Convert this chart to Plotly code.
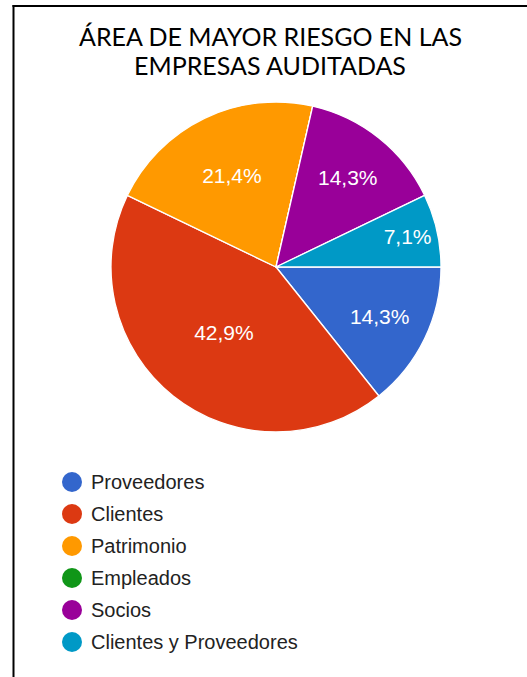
import plotly.graph_objects as go

W, H = 527, 677

# Data
categories = ["Proveedores", "Clientes", "Patrimonio", "Empleados", "Socios", "Clientes y Proveedores"]
counts = [2, 6, 3, 0, 2, 1]
colors = ["#3366CC", "#DC3912", "#FF9900", "#109618", "#990099", "#0099C6"]
title_lines = ["ÁREA DE MAYOR RIESGO EN LAS", "EMPRESAS AUDITADAS"]

total = sum(counts)
labels_txt = [(f"{v / total * 100:.1f}%".replace(".", ",") if v > 0 else "") for v in counts]

# pie geometry in pixels
cx, cy, r = 276, 267, 165

fig = go.Figure()
fig.add_trace(go.Pie(
    labels=categories,
    values=counts,
    text=labels_txt,
    textinfo="text",
    textposition="inside",
    insidetextorientation="horizontal",
    textfont=dict(family="Liberation Sans, Arial", size=21, color="white"),
    marker=dict(colors=colors, line=dict(color="white", width=1.3)),
    sort=False,
    direction="clockwise",
    rotation=90,
    showlegend=False,
    hoverinfo="label+percent",
    domain=dict(x=[(cx - r) / W, (cx + r) / W], y=[1 - (cy + r) / H, 1 - (cy - r) / H]),
))

annotations = []
shapes = []

# title
for i, line in enumerate(title_lines):
    annotations.append(dict(
        text=line, x=270 / W, y=1 - (36 + 28.5 * i) / H, xref="paper", yref="paper",
        xanchor="center", yanchor="middle", showarrow=False,
        font=dict(family="Lato, Open Sans", size=25, color="#000000"),
    ))

# legend drawn as circle markers plus labels
leg_x, leg_y0, leg_dy, rad = 72, 482, 32, 10
for i, (name, col) in enumerate(zip(categories, colors)):
    yc = leg_y0 + leg_dy * i
    shapes.append(dict(
        type="circle", xref="paper", yref="paper",
        x0=(leg_x - rad) / W, x1=(leg_x + rad) / W,
        y0=1 - (yc + rad) / H, y1=1 - (yc - rad) / H,
        fillcolor=col, line=dict(width=0),
    ))
    annotations.append(dict(
        text=name, x=89 / W, y=1 - yc / H, xref="paper", yref="paper",
        xanchor="left", yanchor="middle", showarrow=False,
        font=dict(family="Liberation Sans, Arial", size=20, color="#222222"),
    ))

# outer frame: left and top edges
frame_top = 6
shapes.append(dict(type="line", xref="paper", yref="paper",
                   x0=13.5 / W, x1=13.5 / W, y0=0, y1=1 - (frame_top - 1) / H,
                   line=dict(color="black", width=2)))
shapes.append(dict(type="line", xref="paper", yref="paper",
                   x0=12.5 / W, x1=1, y0=1 - frame_top / H, y1=1 - frame_top / H,
                   line=dict(color="black", width=2)))

fig.update_layout(
    width=W, height=H,
    margin=dict(l=0, r=0, t=0, b=0),
    paper_bgcolor="white", plot_bgcolor="white",
    annotations=annotations, shapes=shapes,
    separators=",.",
)

fig.write_html("out.html", config={"displayModeBar": False})
